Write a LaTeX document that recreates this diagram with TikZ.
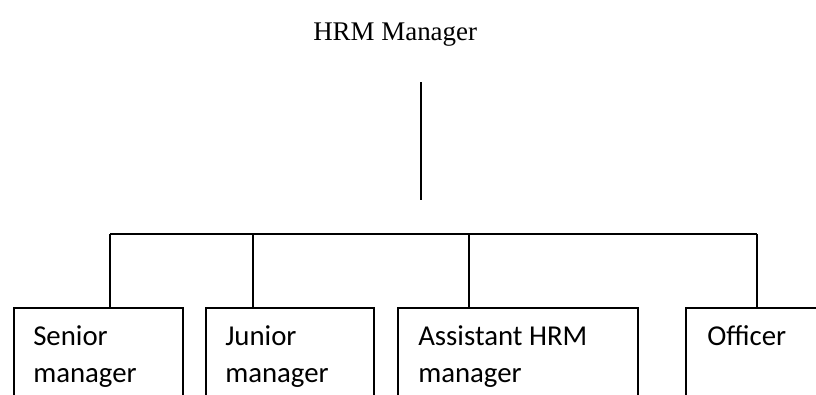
\documentclass[tikz,border=0pt]{standalone}
\usepackage{fontspec}
\setmainfont{Liberation Serif}
\newfontfamily\calib{Carlito}
\begin{document}
\begin{tikzpicture}[x=0.75pt,y=-0.75pt,
  conn/.style={line width=1.3pt,black},
  unitbox/.style={draw,line width=1.3pt,rectangle,anchor=north west,inner sep=0pt,minimum height=120*0.75pt},
  unittext/.style={anchor=base west,inner sep=0pt,font=\calib\fontsize{21.6pt}{27.75pt}\selectfont,align=left},
  headtext/.style={anchor=base west,inner sep=0pt,font=\fontsize{20.2pt}{24pt}\selectfont}]
\useasboundingbox (0,0) rectangle (816,394);
\clip (0,0) rectangle (816,394);

% head of the chart
\node[headtext] (hrm) at (313,40) {HRM Manager};
\coordinate (stemtop) at (421,82);
\coordinate (stembot) at (421,200);
\draw[conn] (stemtop) -- (stembot);

% units (open at the bottom edge of the page)
\node[unitbox,minimum width=169*0.75pt] (sen) at (13,307) {};
\node[unitbox,minimum width=168*0.75pt] (jun) at (205,307) {};
\node[unitbox,minimum width=240*0.75pt] (ast) at (397,307) {};
\node[unitbox,minimum width=160*0.75pt] (off) at (685,307) {};

% unit labels; a two-line node sits on the baseline of its last line
\node[unittext] (sent) at (33,382) {Senior\\manager};
\node[unittext] (junt) at (225,382) {Junior\\manager};
\node[unittext] (astt) at (418,382) {Assistant HRM\\manager};
\node[unittext] (offt) at (707,345) {Officer};

% distribution bus
\coordinate (b1) at (110,234);
\coordinate (b2) at (253,234);
\coordinate (b3) at (469,234);
\coordinate (b4) at (757,234);
\draw[conn] (b1) -- (b4);
\draw[conn] (b1) -- (b1 |- sen.north);
\draw[conn] (b2) -- (b2 |- jun.north);
\draw[conn] (b3) -- (b3 |- ast.north);
\draw[conn] (b4) -- (b4 |- off.north);
\end{tikzpicture}
\end{document}
